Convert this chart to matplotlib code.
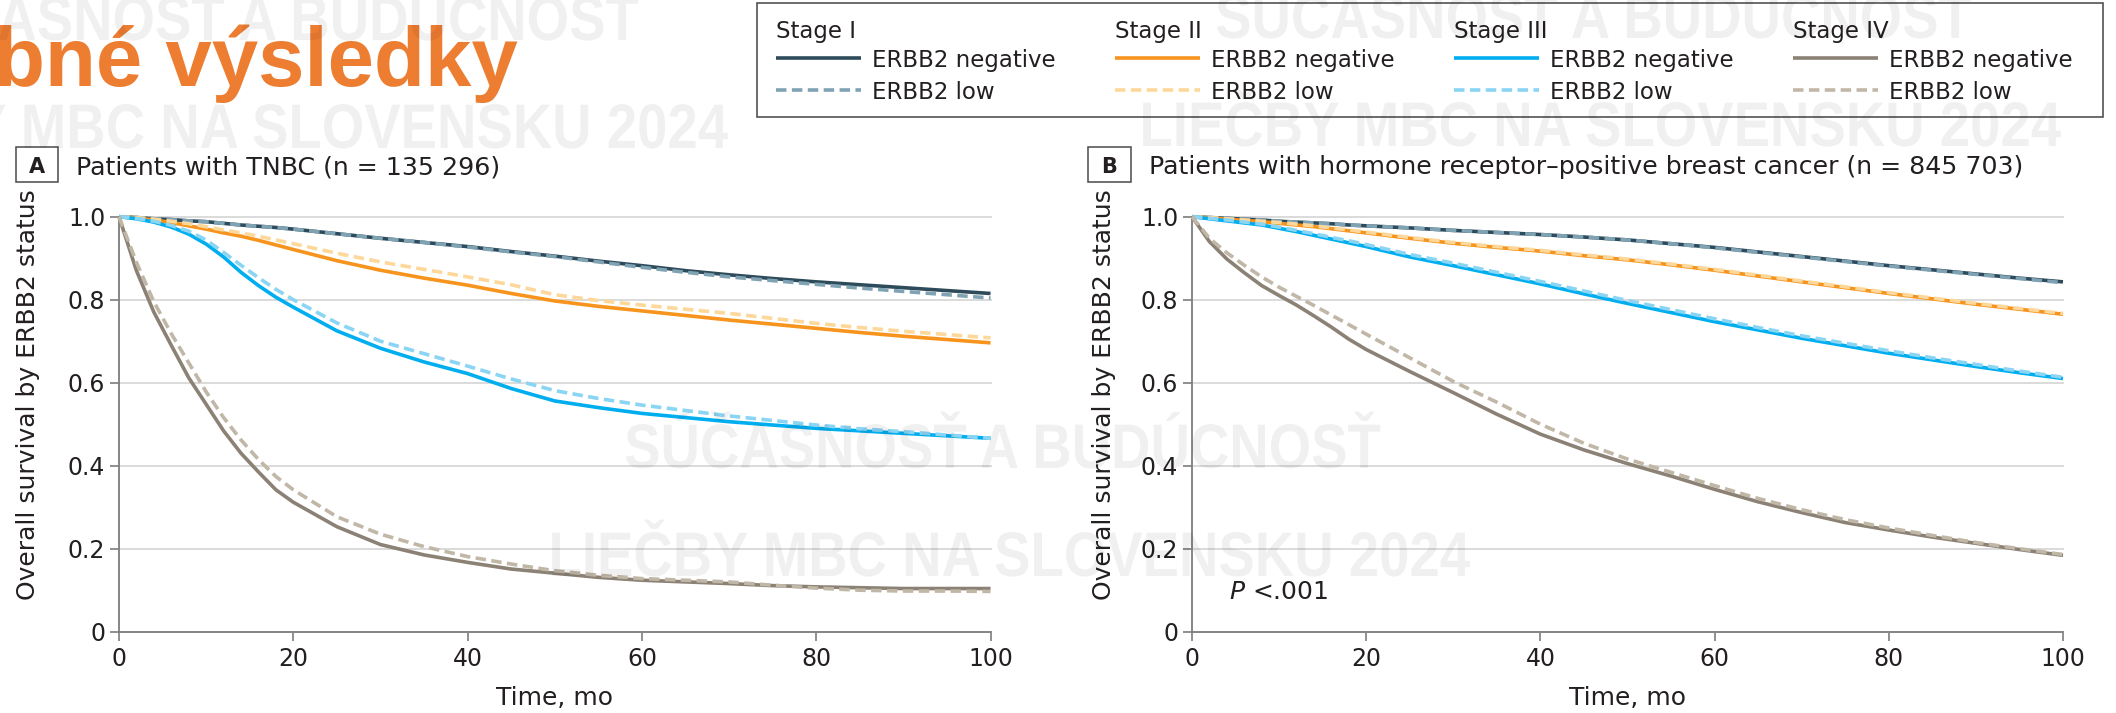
import matplotlib
matplotlib.use("Agg")
import matplotlib.pyplot as plt
from matplotlib.lines import Line2D
from matplotlib.patches import Rectangle, PathPatch
from matplotlib.textpath import TextPath
from matplotlib.font_manager import FontProperties
from matplotlib.transforms import Affine2D, IdentityTransform

# ---------------------------------------------------------------- data
months = [0, 2, 4, 6, 8, 10, 12, 14, 16, 18, 20, 25, 30, 35, 40, 45, 50,
          55, 60, 65, 70, 75, 80, 85, 90, 95, 100]

# Panel A: patients with TNBC
tnbc_stage1_neg = [1.0, .998, .995, .993, .990, .988, .984, .980, .977, .974, .970, .959, .948, .938,
                   .928, .916, .905, .893, .882, .870, .860, .851, .843, .836, .829, .822, .815]
tnbc_stage1_low = [1.0, .998, .995, .993, .990, .988, .984, .980, .977, .974, .970, .959, .948, .938,
                   .927, .915, .904, .891, .878, .866, .855, .846, .837, .828, .820, .812, .804]
tnbc_stage2_neg = [1.0, .997, .992, .986, .978, .970, .961, .953, .943, .932, .921, .894, .871, .852,
                   .835, .815, .797, .784, .773, .762, .751, .741, .731, .721, .712, .704, .696]
tnbc_stage2_low = [1.0, .998, .994, .989, .983, .976, .968, .961, .953, .944, .935, .912, .891, .873,
                   .855, .836, .812, .798, .787, .777, .767, .755, .743, .733, .724, .716, .708]
tnbc_stage3_neg = [1.0, .995, .987, .975, .958, .934, .903, .866, .834, .806, .782, .725, .683, .650,
                   .622, .586, .556, .540, .526, .516, .506, .498, .490, .484, .478, .472, .466]
tnbc_stage3_low = [1.0, .996, .989, .979, .965, .944, .914, .883, .853, .825, .800, .744, .700, .670,
                   .640, .609, .581, .562, .546, .533, .520, .509, .498, .489, .482, .474, .466]
tnbc_stage4_neg = [1.0, .870, .770, .690, .612, .548, .484, .430, .385, .342, .312, .253, .210, .185,
                   .167, .151, .141, .131, .124, .120, .116, .111, .108, .106, .104, .104, .104]
tnbc_stage4_low = [1.0, .890, .795, .718, .648, .578, .516, .462, .415, .374, .342, .277, .235, .205,
                   .181, .163, .147, .136, .128, .124, .120, .112, .105, .100, .098, .098, .097]

# Panel B: patients with hormone receptor-positive breast cancer
hr_stage1_neg = [1.0, .998, .996, .994, .992, .989, .987, .985, .983, .980, .978, .973, .967, .962,
                 .957, .951, .944, .935, .926, .915, .904, .893, .882, .872, .862, .852, .843]
hr_stage1_low = [1.0, .998, .996, .994, .992, .989, .987, .985, .983, .980, .978, .973, .967, .962,
                 .957, .951, .944, .935, .925, .914, .903, .892, .881, .871, .861, .851, .841]
hr_stage2_neg = [1.0, .997, .994, .991, .988, .984, .980, .976, .971, .966, .961, .948, .936, .926,
                 .917, .906, .896, .884, .871, .857, .843, .829, .815, .802, .789, .777, .765]
hr_stage2_low = [1.0, .998, .995, .992, .989, .986, .982, .978, .973, .968, .963, .950, .938, .928,
                 .919, .908, .898, .886, .873, .859, .845, .831, .817, .804, .791, .779, .767]
hr_stage3_neg = [1.0, .995, .990, .985, .980, .972, .964, .955, .946, .937, .928, .903, .882, .860,
                 .838, .814, .791, .769, .747, .727, .707, .689, .671, .655, .639, .624, .610]
hr_stage3_low = [1.0, .996, .992, .987, .982, .975, .967, .959, .950, .942, .933, .909, .888, .866,
                 .844, .821, .798, .776, .754, .733, .713, .695, .677, .660, .644, .628, .613]
hr_stage4_neg = [1.0, .940, .898, .865, .834, .810, .787, .761, .734, .705, .680, .627, .576, .524,
                 .476, .438, .405, .375, .343, .313, .287, .263, .245, .228, .213, .198, .184]
hr_stage4_low = [1.0, .948, .913, .883, .855, .830, .808, .786, .763, .740, .717, .660, .603, .553,
                 .500, .454, .416, .384, .352, .321, .294, .270, .250, .232, .215, .200, .186]

stage_labels = ["Stage I", "Stage II", "Stage III", "Stage IV"]
status_labels = ["ERBB2 negative", "ERBB2 low"]
panel_letters = ["A", "B"]
panel_titles = ["Patients with TNBC (n = 135 296)",
                "Patients with hormone receptor\u2013positive breast cancer (n = 845 703)"]
x_ticks = [0, 20, 40, 60, 80, 100]
y_ticks = [0, 0.2, 0.4, 0.6, 0.8, 1.0]
y_tick_labels = ["0", "0.2", "0.4", "0.6", "0.8", "1.0"]
x_label = "Time, mo"
y_label = "Overall survival by ERBB2 status"
p_value_text = r"$P$ <.001"
heading = "bné výsledky"
watermark_lines = ["SÚČASNOSŤ A BUDÚCNOSŤ", "LIEČBY MBC NA SLOVENSKU 2024"]

# ---------------------------------------------------------------- style
W, H = 2116, 713
neg_colors = ["#2d4b5b", "#f7941d", "#00aeef", "#8b8175"]
low_colors = ["#80a3b4", "#fdd89a", "#8ad4f4", "#c1b7a7"]
LW = 2.6
DASH = (0, (2.9, 1.5))
AXIS_GRAY = "#7d7d7d"
TEXT = "#231f20"

plt.rcParams["font.family"] = ["DejaVu Sans"]


def fx(x):
    return x / W


def fy(y):
    return 1 - y / H


fig = plt.figure(figsize=(W / 100, H / 100), dpi=100)
fig.patch.set_facecolor("white")

panel_series = [
    [(tnbc_stage1_neg, tnbc_stage1_low), (tnbc_stage2_neg, tnbc_stage2_low),
     (tnbc_stage3_neg, tnbc_stage3_low), (tnbc_stage4_neg, tnbc_stage4_low)],
    [(hr_stage1_neg, hr_stage1_low), (hr_stage2_neg, hr_stage2_low),
     (hr_stage3_neg, hr_stage3_low), (hr_stage4_neg, hr_stage4_low)],
]

# pixel geometry of the two panels
ax_left = [119, 1192]
ax_right = [990.5, 2063]
ax_top, ax_bottom = 216.7, 631.7
box_x = [(16, 58), (1088, 1131)]
title_x = [76, 1149]
ylabel_x = [28, 1104]

axes = []
for k in range(2):
    ax = fig.add_axes([fx(ax_left[k]), fy(ax_bottom),
                       (ax_right[k] - ax_left[k]) / W, (ax_bottom - ax_top) / H])
    axes.append(ax)
    for i, (neg, low) in enumerate(panel_series[k]):
        ax.plot(months, neg, color=neg_colors[i], lw=LW, solid_capstyle="butt",
                solid_joinstyle="round", clip_on=False, zorder=3 + i * 0.1)
        ax.plot(months, low, color=low_colors[i], lw=LW, linestyle=DASH,
                clip_on=False, zorder=3.05 + i * 0.1)
    ax.set_xlim(0, 100)
    ax.set_ylim(0, 1.0)
    ax.set_xticks(x_ticks)
    ax.set_yticks(y_ticks)
    ax.set_yticklabels(y_tick_labels)
    for s in ("top", "right"):
        ax.spines[s].set_visible(False)
    for s in ("left", "bottom"):
        ax.spines[s].set_color(AXIS_GRAY)
        ax.spines[s].set_linewidth(1.3)
    ax.tick_params(axis="both", direction="out", length=6.5, width=1.2,
                   color=AXIS_GRAY, labelsize=17, labelcolor=TEXT)
    ax.tick_params(axis="x", pad=4.3)
    ax.tick_params(axis="y", pad=3.4)
    ax.yaxis.grid(True, color="#dadada", lw=1.4, zorder=0)
    ax.set_axisbelow(True)
    for gl in ax.get_ygridlines():
        gl.set_clip_on(False)
    ax.patch.set_alpha(0)

    # panel letter box and title
    x0, x1 = box_x[k]
    fig.add_artist(Rectangle((fx(x0), fy(182)), (x1 - x0) / W, 35 / H,
                             transform=fig.transFigure, fill=False,
                             ec="#4a4a4a", lw=1.1))
    fig.text(fx((x0 + x1) / 2), fy(173), panel_letters[k], ha="center",
             va="baseline", fontsize=15, fontweight="bold", color=TEXT)
    fig.text(fx(title_x[k]), fy(174), panel_titles[k], ha="left",
             va="baseline", fontsize=18.2, color=TEXT)

    # axis titles
    fig.text(fx(ylabel_x[k]), fy(395), y_label, rotation=90, ha="center",
             va="center", fontsize=18, color=TEXT)
    fig.text(fx((ax_left[k] + ax_right[k]) / 2), fy(705), x_label,
             ha="center", va="baseline", fontsize=18, color=TEXT)

axes[1].text(4.2, 0.079, p_value_text, ha="left", va="baseline",
             fontsize=18, color=TEXT)

# ---------------------------------------------------------------- legend
fig.add_artist(Rectangle((fx(757), fy(117)), (2103 - 757) / W, 114 / H,
                         transform=fig.transFigure, fill=False,
                         ec="#444444", lw=1.1))
for i, stage in enumerate(stage_labels):
    x0 = 776 + 339 * i
    fig.text(fx(x0), fy(38), stage, fontsize=16.5, va="baseline", color=TEXT)
    fig.add_artist(Line2D([fx(x0), fx(x0 + 85)], [fy(58), fy(58)],
                          transform=fig.transFigure, color=neg_colors[i],
                          lw=LW, solid_capstyle="butt"))
    fig.text(fx(x0 + 96), fy(67), status_labels[0], fontsize=16.5,
             va="baseline", color=TEXT)
    fig.add_artist(Line2D([fx(x0), fx(x0 + 85)], [fy(90), fy(90)],
                          transform=fig.transFigure, color=low_colors[i],
                          lw=LW, linestyle=DASH))
    fig.text(fx(x0 + 96), fy(99), status_labels[1], fontsize=16.5,
             va="baseline", color=TEXT)

# ---------------------------------------------------------------- heading
fig.text(fx(-6), fy(86), heading, ha="left", va="baseline", fontsize=60,
         fontweight="bold", family="Liberation Sans", color="#ED7D31", zorder=5)

# ---------------------------------------------------------------- watermark
# condensed bold lettering: bold glyph outlines squeezed horizontally
wm_prop = FontProperties(family="Liberation Sans", weight="bold")


def watermark(text, cx, base_y, em=63, squeeze=0.866):
    tp = TextPath((0, 0), text, size=em, prop=wm_prop)
    ext = tp.get_extents()
    tr = (Affine2D().translate(-(ext.x0 + ext.x1) / 2, 0)
          .scale(squeeze, 1).translate(cx, H - base_y))
    patch = PathPatch(tr.transform_path(tp), fc="black", ec="none",
                      alpha=0.06, transform=IdentityTransform(), zorder=20)
    fig.add_artist(patch)


wm_blocks = [(261, 40), (1594, 38), (1003, 468)]
for cx, base in wm_blocks:
    watermark(watermark_lines[0], cx, base)
    watermark(watermark_lines[1], cx + 8, base + 108)

fig.savefig("out.png", dpi=100, facecolor="white")
